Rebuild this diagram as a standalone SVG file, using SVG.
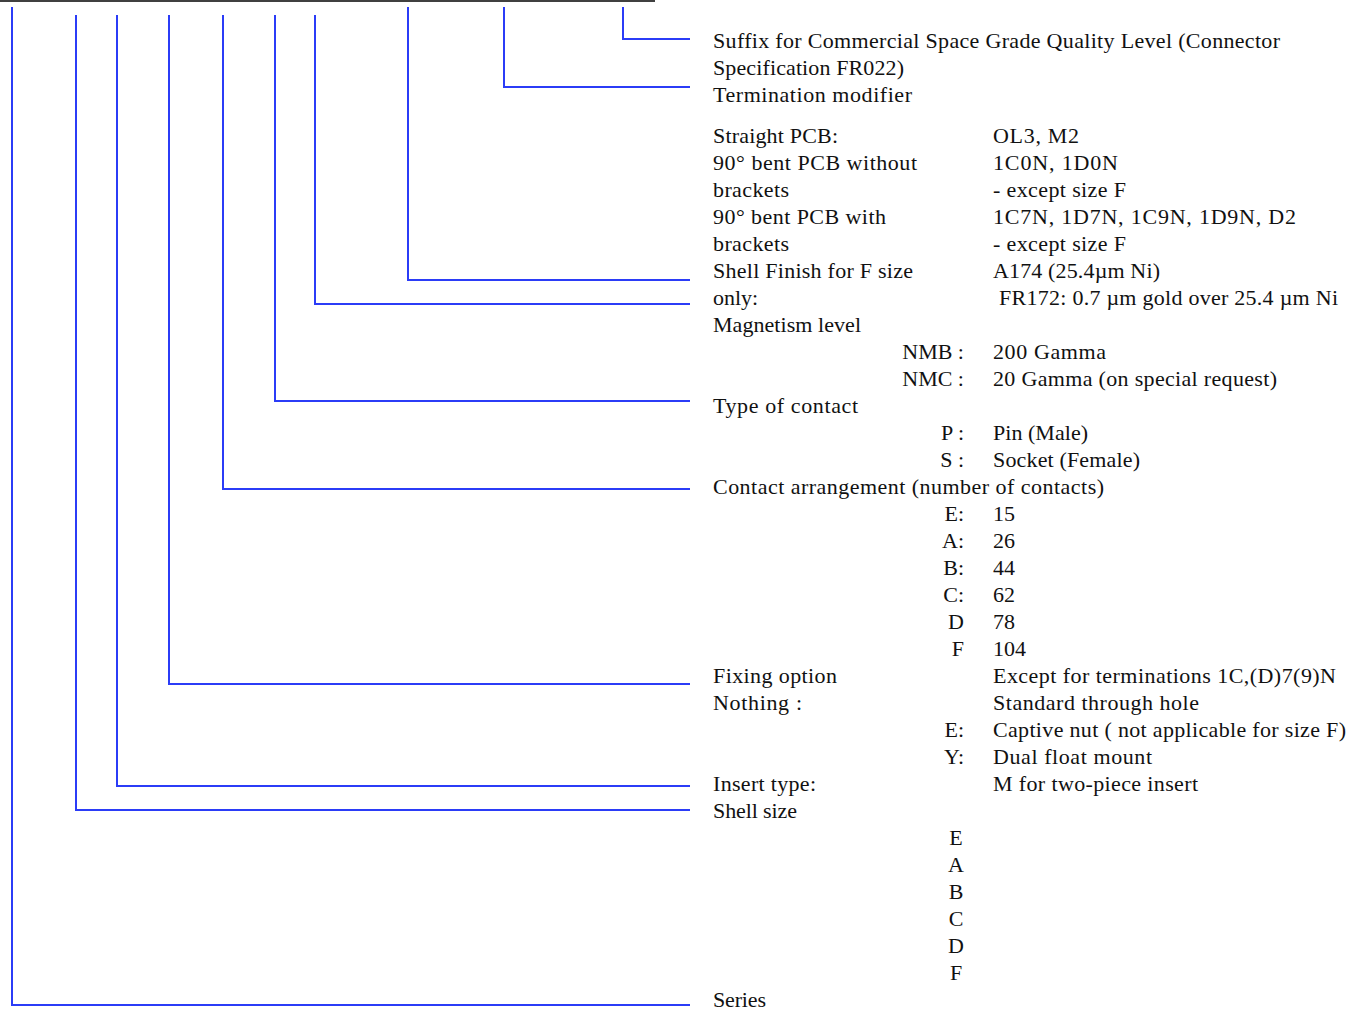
<svg xmlns="http://www.w3.org/2000/svg" width="1360" height="1011" viewBox="0 0 1360 1011">
<style>
text{font-family:"Liberation Serif","Times New Roman",serif;font-size:22px;fill:#111}
.r{text-anchor:end}
.m{text-anchor:middle}
.c{fill:none;stroke:#2b3cf7;stroke-width:2}
</style>
<rect width="1360" height="1011" fill="#fff"/>
<line x1="0" y1="1" x2="655" y2="1" stroke="#000" stroke-width="1.5"/>
<g id="connectors">
<path class="c" d="M623,7 V39 H690"/>
<path class="c" d="M504,7 V87 H690"/>
<path class="c" d="M408,7 V280 H690"/>
<path class="c" d="M315,15 V304 H690"/>
<path class="c" d="M275,15 V401 H690"/>
<path class="c" d="M223,15 V489 H690"/>
<path class="c" d="M169,15 V684 H690"/>
<path class="c" d="M117,15 V786 H690"/>
<path class="c" d="M76,15 V810 H690"/>
<path class="c" d="M12,7 V1005 H690"/>
</g>
<g id="suffix">
<text x="713" y="48" textLength="567">Suffix for Commercial Space Grade Quality Level (Connector</text>
<text x="713" y="75" textLength="191">Specification FR022)</text>
</g>
<g id="termination">
<text x="713" y="102" textLength="199">Termination modifier</text>
<text x="713" y="143" textLength="125">Straight PCB:</text><text x="993" y="143" textLength="86">OL3, M2</text>
<text x="713" y="170" textLength="204">90° bent PCB without</text><text x="993" y="170" textLength="125">1C0N, 1D0N</text>
<text x="713" y="197" textLength="76">brackets</text><text x="993" y="197" textLength="133">- except size F</text>
<text x="713" y="224" textLength="173">90° bent PCB with</text><text x="993" y="224" textLength="303">1C7N, 1D7N, 1C9N, 1D9N, D2</text>
<text x="713" y="251" textLength="76">brackets</text><text x="993" y="251" textLength="133">- except size F</text>
</g>
<g id="shell-finish">
<text x="713" y="278" textLength="200">Shell Finish for F size</text><text x="993" y="278" textLength="167">A174 (25.4µm Ni)</text>
<text x="713" y="305" textLength="45">only:</text><text x="999" y="305" textLength="339">FR172: 0.7 µm gold over 25.4 µm Ni</text>
</g>
<g id="magnetism">
<text x="713" y="332" textLength="148">Magnetism level</text>
<text class="r" x="964" y="359">NMB :</text><text x="993" y="359" textLength="113">200 Gamma</text>
<text class="r" x="964" y="386">NMC :</text><text x="993" y="386" textLength="284">20 Gamma (on special request)</text>
</g>
<g id="contact-type">
<text x="713" y="413" textLength="145">Type of contact</text>
<text class="r" x="964" y="440">P :</text><text x="993" y="440" textLength="95">Pin (Male)</text>
<text class="r" x="964" y="467">S :</text><text x="993" y="467" textLength="147">Socket (Female)</text>
</g>
<g id="contact-arrangement">
<text x="713" y="494" textLength="391">Contact arrangement (number of contacts)</text>
<text class="r" x="964" y="521">E:</text><text x="993" y="521">15</text>
<text class="r" x="964" y="548">A:</text><text x="993" y="548">26</text>
<text class="r" x="964" y="575">B:</text><text x="993" y="575">44</text>
<text class="r" x="964" y="602">C:</text><text x="993" y="602">62</text>
<text class="r" x="964" y="629">D</text><text x="993" y="629">78</text>
<text class="r" x="964" y="656">F</text><text x="993" y="656">104</text>
</g>
<g id="fixing">
<text x="713" y="683" textLength="124">Fixing option</text><text x="993" y="683" textLength="343">Except for terminations 1C,(D)7(9)N</text>
<text x="713" y="710" textLength="89">Nothing :</text><text x="993" y="710" textLength="206">Standard through hole</text>
<text class="r" x="964" y="737">E:</text><text x="993" y="737" textLength="353">Captive nut ( not applicable for size F)</text>
<text class="r" x="964" y="764">Y:</text><text x="993" y="764" textLength="159">Dual float mount</text>
</g>
<g id="insert">
<text x="713" y="791" textLength="103">Insert type:</text><text x="993" y="791" textLength="205">M for two-piece insert</text>
</g>
<g id="shell-size">
<text x="713" y="818" textLength="84">Shell size</text>
<text class="m" x="956" y="845">E</text>
<text class="m" x="956" y="872">A</text>
<text class="m" x="956" y="899">B</text>
<text class="m" x="956" y="926">C</text>
<text class="m" x="956" y="953">D</text>
<text class="m" x="956" y="980">F</text>
</g>
<g id="series">
<text x="713" y="1007" textLength="53">Series</text>
</g>
</svg>
